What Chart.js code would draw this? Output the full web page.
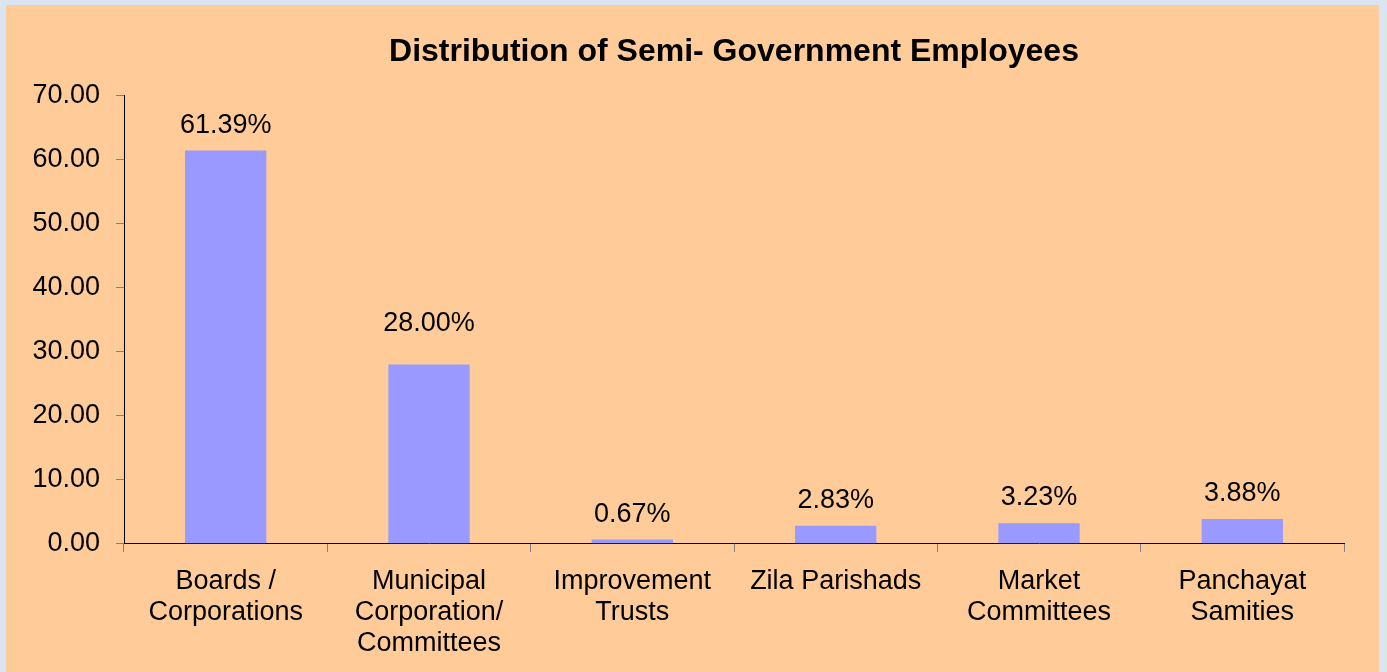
<!DOCTYPE html>
<html>
<head>
<meta charset="utf-8">
<script src="https://cdn.jsdelivr.net/npm/chart.js@4.4.1/dist/chart.umd.min.js"></script>
<style>
  html, body { margin: 0; padding: 0; background: #dbe5f1; }
  #wrap { position: absolute; left: 6px; top: 5px; width: 1373px; height: 667px; background: #ffcc99; }
</style>
</head>
<body>
<div id="wrap"><canvas id="semiChart" width="1373" height="667"></canvas></div>
<script>
const categories = [
  ['Boards /', 'Corporations'],
  ['Municipal', 'Corporation/', 'Committees'],
  ['Improvement', 'Trusts'],
  ['Zila Parishads'],
  ['Market', 'Committees'],
  ['Panchayat', 'Samities']
];
const shares = [61.39, 28.00, 0.67, 2.83, 3.23, 3.88];
const yTicks = [0, 10, 20, 30, 40, 50, 60, 70];

const FONT = "'Liberation Sans', Arial, sans-serif";

// percentage labels above each bar (the second one sits a bit higher in the original)
const barLabels = {
  id: 'barLabels',
  afterDatasetsDraw(chart, args, opts) {
    const ctx = chart.ctx;
    const meta = chart.getDatasetMeta(0);
    ctx.save();
    ctx.font = `27px ${FONT}`;
    ctx.fillStyle = '#000';
    ctx.textAlign = 'center';
    ctx.textBaseline = 'alphabetic';
    meta.data.forEach((bar, i) => {
      const lift = opts.gap + (opts.extra[i] || 0);
      ctx.fillText(shares[i].toFixed(2) + '%', bar.x, bar.y - lift);
    });
    ctx.restore();
  }
};

const ctx = document.getElementById('semiChart').getContext('2d');
const chart = new Chart(ctx, {
  type: 'bar',
  data: {
    labels: categories,
    datasets: [{
      data: shares,
      backgroundColor: '#9999ff',
      borderWidth: 0,
      categoryPercentage: 1,
      barPercentage: 0.4
    }]
  },
  options: {
    responsive: false,
    animation: false,
    layout: { padding: { left: 0, right: 35, top: 0, bottom: -1 } },
    plugins: {
      legend: { display: false },
      tooltip: { enabled: false },
      barLabels: { gap: 18, extra: [0, 15, 0, 0, 0, 0] },
      title: {
        display: true,
        fullSize: false,
        text: 'Distribution of Semi- Government Employees',
        color: '#000',
        font: { family: FONT, size: 32, weight: 'bold' },
        padding: { top: 28, bottom: 24 }
      }
    },
    scales: {
      x: {
        grid: { display: true, drawOnChartArea: false, drawTicks: true, tickLength: 8, color: '#808080', offset: true },
        border: { display: true, color: '#000', width: 1 },
        ticks: { color: '#000', font: { family: FONT, size: 27, lineHeight: 1.15 }, padding: 14, maxRotation: 0, autoSkip: false }
      },
      y: {
        min: 0,
        max: 70,
        afterFit(scale) { scale.width = 118; },
        afterBuildTicks(scale) { scale.ticks = yTicks.map(v => ({ value: v })); },
        grid: { display: true, drawOnChartArea: false, drawTicks: true, tickLength: 8, color: '#808080' },
        border: { display: true, color: '#000', width: 1 },
        ticks: {
          color: '#000',
          font: { family: FONT, size: 27 },
          padding: 16,
          callback: v => Number(v).toFixed(2)
        }
      }
    }
  },
  plugins: [barLabels]
});
</script>
</body>
</html>
